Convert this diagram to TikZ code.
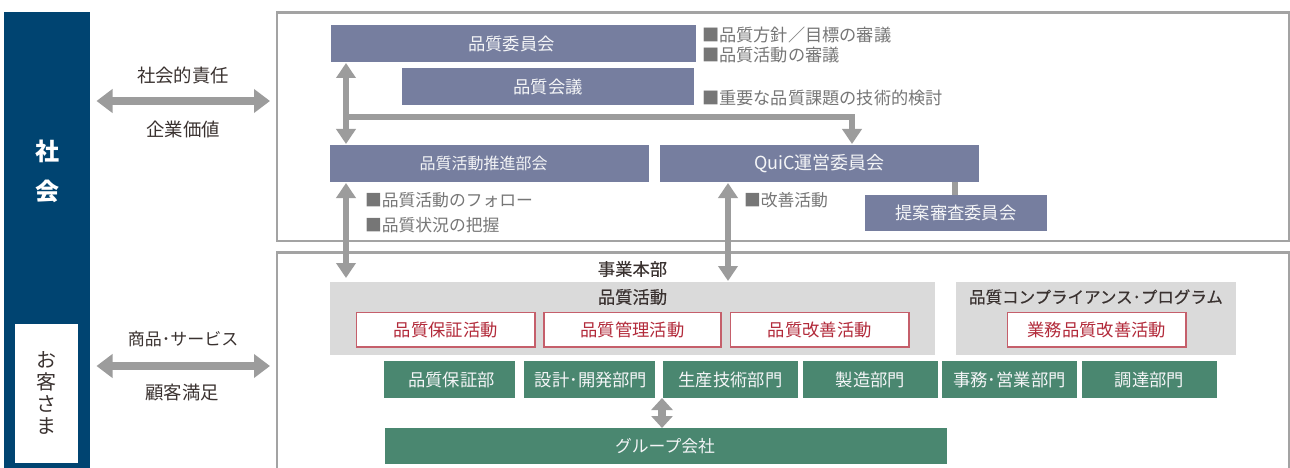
\documentclass[tikz,border=0pt]{standalone}
\usepackage{fontspec}
\setmainfont{Noto Sans CJK JP}
\newfontfamily\medfont[FakeBold=0.25]{Noto Sans CJK JP}
\usetikzlibrary{arrows.meta}
\definecolor{navy}{HTML}{004471}
\definecolor{slate}{HTML}{767E9F}
\definecolor{pine}{HTML}{4A8770}
\definecolor{pale}{HTML}{DADADA}
\definecolor{rim}{HTML}{A3A3A3}
\definecolor{flow}{HTML}{9C9C9C}
\definecolor{crim}{HTML}{B22A3A}
\definecolor{ink}{HTML}{3A3230}
\definecolor{note}{HTML}{767676}
\tikzset{
  base/.style={inner sep=0pt,outer sep=0pt,font=\fontsize{17.3}{20}\selectfont},
  frameb/.style={base,draw=rim,line width=2.4pt,fill=white},
  slatebox/.style={base,fill=slate},
  pinebox/.style={base,fill=pine},
  palebox/.style={base,fill=pale},
  redbox/.style={base,draw=crim!75!white,line width=1.4pt,fill=white},
  lighttext/.style={base,text=white!92!slate},
  redtext/.style={base,text=crim},
  label/.style={base,text=ink,font=\fontsize{18.4}{20}\selectfont},
  headtext/.style={base,text=ink,font=\medfont\fontsize{17.3}{20}\selectfont},
  memo/.style={base,text=note,anchor=west,font=\fontsize{17.2}{20}\selectfont},
  flowline/.style={draw=flow,line width=6pt},
  vtwoway/.style={flowline,{Triangle[width=19pt,length=15pt]}-{Triangle[width=19pt,length=15pt]}},
  voneway/.style={flowline,-{Triangle[width=19pt,length=15pt]}},
  htwoway/.style={flowline,line width=8.5pt,{Triangle[width=23pt,length=16pt]}-{Triangle[width=23pt,length=16pt]}},
}
\newcommand{\rbox}[6]{\node[#1,minimum width=#5-#3,minimum height=#6-#4] (#2) at ({(#3+#5)/2},{(#4+#6)/2}) {};}
\begin{document}
\begin{tikzpicture}[x=1pt,y=-1pt]
\useasboundingbox (0,0) rectangle (1290,468);
\begin{scope}
\clip (0,0) rectangle (1290,468);
% blue column
\rbox{base,fill=navy}{soc}{4}{12}{90}{472}
\rbox{base,fill=white}{cust}{15}{324}{78}{463}
\node[base,text=white,font=\bfseries\fontsize{24}{26}\selectfont] (socA) at (47,151) {社};
\node[base,text=white,font=\bfseries\fontsize{24}{26}\selectfont] (socB) at (47,191) {会};
\node[base,text=ink,align=center,font=\fontsize{20}{21.7}\selectfont] (custT) at (46.5,393) {お\\客\\さ\\ま};
% frames
\rbox{frameb}{upper}{277}{12.5}{1289}{241}
\rbox{frameb}{lower}{277}{252.5}{1289}{480}
% slate boxes
\rbox{slatebox}{iinkai}{331}{25}{696}{62}
\node[lighttext] (iinkaiT) at (511.5,43.5) {品質委員会};
\rbox{slatebox}{kaigi}{402}{68}{694}{105}
\node[lighttext] (kaigiT) at (kaigi) {品質会議};
\rbox{slatebox}{suishin}{330}{145}{649}{182}
\node[lighttext,font=\fontsize{16}{20}\selectfont] (suishinT) at (483.5,163.5) {品質活動推進部会};
\rbox{slatebox}{quic}{660}{145}{979}{182}
\node[lighttext,font=\fontsize{18}{20}\selectfont] (quicT) at (quic) {QuiC運営委員会};
\rbox{slatebox}{teian}{865}{195}{1047}{231}
\node[lighttext] (teianT) at (teian) {提案審査委員会};
% memos
\node[memo] (m1) at (702,34.5) {■品質方針／目標の審議};
\node[memo] (m2) at (702,55) {■品質活動の審議};
\node[memo] (m3) at (702,97.5) {■重要な品質課題の技術的検討};
\node[memo,font=\fontsize{16.8}{20}\selectfont] (m4) at (365,200) {■品質活動のフォロー};
\node[memo,font=\fontsize{16.8}{20}\selectfont] (m5) at (365,225) {■品質状況の把握};
\node[memo,font=\fontsize{16.8}{20}\selectfont] (m6) at (744,200) {■改善活動};
% side labels
\node[label] (l1) at (183,75) {社会的責任};
\node[label] (l2) at (183,129) {企業価値};
\node[label,font=\fontsize{17}{20}\selectfont] (l3) at (183,339) {商品･サービス};
\node[label] (l4) at (182,393) {顧客満足};
% lower
\node[headtext] (jigyo) at (632.5,269) {事業本部};
\rbox{palebox}{katsudo}{330}{282}{935}{355}
\rbox{palebox}{comp}{956}{282}{1236}{355}
\node[headtext] (katsudoT) at (632.5,297) {品質活動};
\node[headtext,font=\medfont\fontsize{16.5}{20}\selectfont] (compT) at (1096,297) {品質コンプライアンス･プログラム};
\rbox{redbox}{r1}{356.5}{312.5}{535}{347}
\node[redtext] (r1T) at (r1) {品質保証活動};
\rbox{redbox}{r2}{544}{312.5}{721}{347}
\node[redtext] (r2T) at (r2) {品質管理活動};
\rbox{redbox}{r3}{730.5}{312.5}{909}{347}
\node[redtext] (r3T) at (r3) {品質改善活動};
\rbox{redbox}{r4}{1007.5}{312.5}{1186}{347}
\node[redtext] (r4T) at (r4) {業務品質改善活動};
\rbox{pinebox}{g1}{384}{361}{515}{398}
\node[lighttext] (g1T) at (451.5,379.5) {品質保証部};
\rbox{pinebox}{g2}{524}{361}{655}{398}
\node[lighttext] (g2T) at (591,379.5) {設計･開発部門};
\rbox{pinebox}{g3}{663}{361}{798}{398}
\node[lighttext] (g3T) at (g3) {生産技術部門};
\rbox{pinebox}{g4}{803}{361}{938}{398}
\node[lighttext] (g4T) at (g4) {製造部門};
\rbox{pinebox}{g5}{942}{361}{1077}{398}
\node[lighttext] (g5T) at (g5) {事務･営業部門};
\rbox{pinebox}{g6}{1082}{361}{1217}{398}
\node[lighttext] (g6T) at (g6) {調達部門};
\rbox{pinebox}{grp}{385}{428}{947}{464}
\node[lighttext,font=\fontsize{16.8}{20}\selectfont] (grpT) at (665,446) {グループ会社};
% connectors
\coordinate (a1) at (346,101);
\coordinate (a2) at (346,366);
\draw[htwoway,shorten <=6.5pt,shorten >=7pt] (soc.east |- a1) -- (upper.west |- a1);
\draw[htwoway,shorten <=6.5pt,shorten >=7pt] (soc.east |- a2) -- (lower.west |- a2);
\coordinate (v1) at (346,0);
\coordinate (v2) at (728,0);
\coordinate (v3) at (852,0);
\coordinate (v4) at (662,0);
\coordinate (v5) at (955,0);
\coordinate (bend) at (346,117);
\draw[vtwoway,shorten <=1pt,shorten >=1pt] (iinkai.south -| v1) -- (suishin.north -| v1);
\draw[voneway,line width=6.5pt] (bend) -| ([yshift=1pt]quic.north -| v3);
\draw[vtwoway,shorten <=1pt] (suishin.south -| v1) -- ([yshift=4pt]katsudo.north -| v1);
\draw[vtwoway,shorten <=1pt] (quic.south -| v2) -- ([yshift=1pt]katsudo.north -| v2);
\draw[flowline] (quic.south -| v5) -- (teian.north -| v5);
\draw[flowline,line width=8pt,{Triangle[width=21pt,length=12pt]}-{Triangle[width=21pt,length=12pt]}] (g2.south -| v4) -- (grp.north -| v4);
\end{scope}
\end{tikzpicture}
\end{document}
